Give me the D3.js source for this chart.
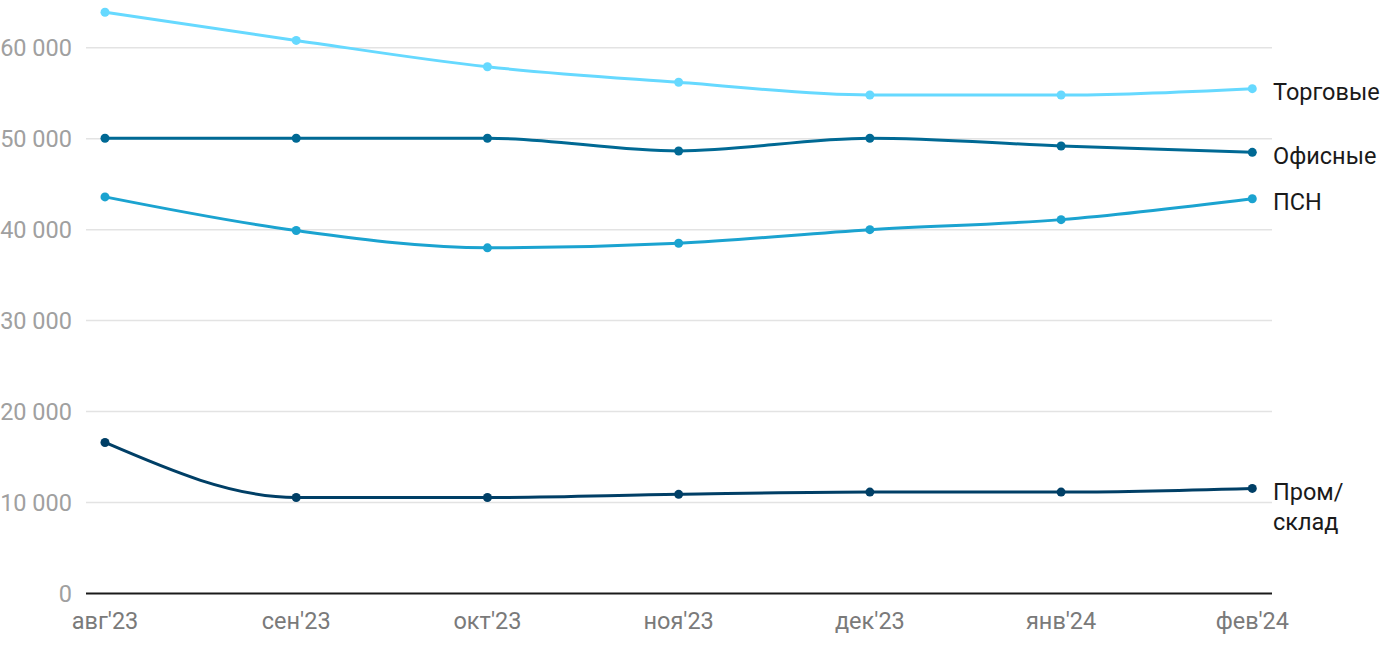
<!DOCTYPE html>
<html><head><meta charset="utf-8">
<script src="https://cdn.jsdelivr.net/npm/d3@7"></script>
<style>body{margin:0;background:#fff;font-family:Roboto,"Noto Sans",sans-serif}</style>
</head><body><svg id="c" width="1400" height="650"></svg>
<script>
const months = ["авг'23","сен'23","окт'23","ноя'23","дек'23","янв'24","фев'24"];
const yTicks = [0,10000,20000,30000,40000,50000,60000];
const seriesNames = ["Торговые","Офисные","ПСН","Пром/склад"];
const torgovye = [63900,60800,57900,56200,54800,54800,55500];
const ofisnye = [50050,50050,50050,48650,50050,49200,48500];
const psn = [43600,39900,38000,38500,40000,41100,43400];
const prom = [16600,10550,10550,10900,11150,11150,11550];
const colors = ["#66d9ff","#006994","#1ba3d0","#003f66"];
const allValues = [torgovye,ofisnye,psn,prom];

const svg = d3.select("#c");
const x = d3.scalePoint().domain(months).range([105,1252.3]);
const y = d3.scaleLinear().domain([0,60000]).range([593.5,47.7]);
const fmt = v => d3.format(",")(v).replace(/,/g," ");

svg.append("g").selectAll("line").data(yTicks.filter(d=>d>0)).join("line")
  .attr("x1",86).attr("x2",1272).attr("y1",d=>y(d)).attr("y2",d=>y(d))
  .attr("stroke","#e3e3e3").attr("stroke-width",1.5);
svg.append("g").selectAll("text").data(yTicks).join("text")
  .attr("x",72).attr("y",d=>y(d)).attr("dy","0.35em").attr("text-anchor","end")
  .attr("fill","#a0a0a0").attr("font-size",23.5).text(fmt);
svg.append("line").attr("x1",86).attr("x2",1272).attr("y1",y(0)).attr("y2",y(0))
  .attr("stroke","#1a1a1a").attr("stroke-width",2);
svg.append("g").selectAll("text").data(months).join("text")
  .attr("x",d=>x(d)).attr("y",629).attr("text-anchor","middle")
  .attr("fill","#7a7a7a").attr("font-size",23.5).text(d=>d);

const line = d3.line().x((d,i)=>x(months[i])).y(d=>y(d)).curve(d3.curveMonotoneX);
allValues.forEach((vals,k)=>{
  const g = svg.append("g");
  g.append("path").attr("d",line(vals)).attr("fill","none")
    .attr("stroke",colors[k]).attr("stroke-width",3);
  g.selectAll("circle").data(vals).join("circle")
    .attr("cx",(d,i)=>x(months[i])).attr("cy",d=>y(d)).attr("r",4.5)
    .attr("fill",colors[k]);
  const last = vals[vals.length-1];
  const t = g.append("text").attr("x",1273).attr("y",y(last)).attr("fill","#1a1a1a").attr("font-size",23.5);
  const parts = seriesNames[k]==="Пром/склад" ? ["Пром/","склад"] : [seriesNames[k]];
  parts.forEach((p,j)=>{
    t.append("tspan").attr("x",1273).attr("dy", j===0 ? (parts.length>1?"0.5em":"0.48em") : "1.25em").text(p);
  });
});
</script></body></html>
